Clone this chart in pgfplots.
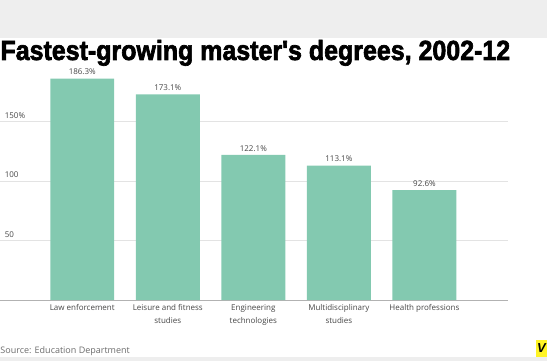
\documentclass[border=0pt]{standalone}
\usepackage{pgfplots}
\pgfplotsset{compat=1.18}
\usepackage{fontspec}
\setmainfont{Open Sans}
\newfontfamily\titlefont[BoldFeatures={FakeBold=2.5}]{Liberation Sans}
\definecolor{barc}{RGB}{131,201,176}
\definecolor{bandc}{RGB}{238,238,238}
\definecolor{labc}{RGB}{70,70,70}
\begin{document}
\begin{tikzpicture}[x=1pt,y=1pt]
\path (0,0) rectangle (547,361);
\fill[bandc] (0,323) rectangle (547,361);
\fill[bandc] (0,0) rectangle (547,4);
\node[anchor=base west, inner sep=0] at (0,301) {\resizebox{510pt}{20pt}{\titlefont\bfseries Fastest-growing master's degrees, 2002-12}};
\begin{axis}[
  at={(0,51)}, anchor=south west,
  scale only axis, width=508pt, height=238pt,
  xmin=-0.958, xmax=4.977, ymin=0, ymax=200,
  axis line style={draw=none},
  major tick length=0pt,
  ybar, bar width=64pt,
  ytick={50,100,150}, yticklabels={50,100,150\%},
  /pgf/number format/assume math mode=true,
  yticklabel style={anchor=south west, xshift=1pt, yshift=0pt, font=\fontsize{8}{8}\selectfont, text=labc},
  ymajorgrids, grid style={gray!22, line width=0.5pt},
  extra y ticks={0}, extra y tick labels={},
  extra y tick style={grid style={gray!60, line width=0.6pt}},
  xtick={0,1,2,3,4},
  xticklabels={Law enforcement, Leisure and fitness\\studies, Engineering\\technologies, Multidisciplinary\\studies, Health professions},
  xticklabel style={align=center, font=\fontsize{8}{12.5}\selectfont, text=labc, yshift=-1pt},
  nodes near coords={\pgfmathprintnumber[fixed,precision=1,fixed zerofill]{\pgfplotspointmeta}\%},
  every node near coord/.append style={font=\fontsize{8}{8}\selectfont, text=labc},
]
\addplot[draw=none, fill=barc] coordinates {(0,186.3) (1,173.1) (2,122.1) (3,113.1) (4,92.6)};
\end{axis}
\node[anchor=base west, inner sep=0, text=gray!85!black, font=\fontsize{9}{10}\selectfont] at (0,7) {Source: Education Department};
\fill[yellow!85!white] (536,4) rectangle (547,21);
\node[inner sep=0, font=\titlefont\bfseries\itshape\fontsize{13}{13}\selectfont] at (541.5,12.5) {V};
\end{tikzpicture}
\end{document}
